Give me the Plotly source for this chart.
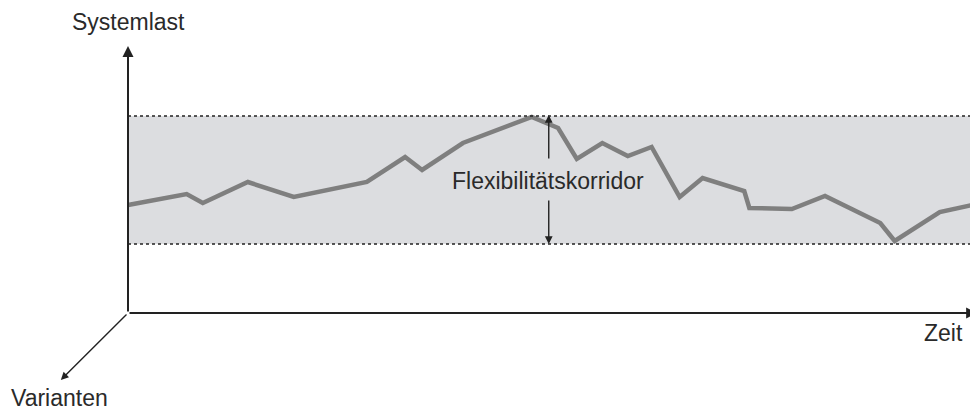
import plotly.graph_objects as go

# Time (0-100) and system load values
zeit = [0, 6.9, 8.8, 14.1, 19.5, 28.1, 32.6, 34.6, 39.4, 47.5, 50.6, 52.8, 55.8,
        58.8, 61.6, 64.9, 67.6, 72.5, 73.1, 78.1, 82.0, 88.5, 90.2, 95.5, 99.3]
last = [54, 59.5, 55, 65.5, 58, 65.5, 78, 71.5, 85, 98, 92.5, 77, 85,
        78.5, 83, 58, 67.5, 61, 52.5, 52, 58.5, 45, 36, 50.5, 54]

korridor_unten = 34.5
korridor_oben = 98.5
korridor_x = 49.5

FONT = "Liberation Sans"
TXT = "#2a2a2a"

fig = go.Figure()
fig.add_trace(go.Scatter(x=zeit, y=last, mode="lines",
                         line=dict(color="#7f7f7f", width=4.5),
                         hoverinfo="skip", showlegend=False))

# corridor band
fig.add_shape(type="rect", xref="x", yref="y", x0=0, x1=101,
              y0=korridor_unten, y1=korridor_oben,
              fillcolor="#dcdde0", line_width=0, layer="below")
for yv in (korridor_unten, korridor_oben):
    fig.add_shape(type="line", xref="x", yref="y", x0=0, x1=101, y0=yv, y1=yv,
                  line=dict(color="#222222", width=1.5, dash="dot"))

def arrow(x, y, ax, ay, w=1.8):
    fig.add_annotation(x=x, y=y, ax=ax, ay=ay, xref="x", yref="y",
                       axref="x", ayref="y", text="", showarrow=True,
                       arrowhead=2, arrowsize=1.1, arrowwidth=w,
                       arrowcolor="#222222")

# axes
arrow(0, 133.5, 0, 0, 2)
arrow(99.9, 0, 0, 0, 2)
arrow(-7.9, -33.5, 0, 0, 1.4)

# corridor double arrow
arrow(korridor_x, korridor_oben + 0.5, korridor_x, 76.5, 1.4)
arrow(korridor_x, korridor_unten, korridor_x, 57, 1.4)

def label(x, y, t):
    fig.add_annotation(x=x, y=y, xref="x", yref="y", text=t, showarrow=False,
                       font=dict(family=FONT, size=23, color=TXT))

label(0, 145.5, "Systemlast")
label(95.9, -10, "Zeit")
label(-8.1, -42.5, "Varianten")
label(49.4, 66, "Flexibilitätskorridor")

# page has an 8px body margin: figure is 970x404 placed at (8, 8)
fig.update_layout(
    width=970, height=404, margin=dict(l=0, r=0, t=0, b=0),
    paper_bgcolor="white", plot_bgcolor="white",
    xaxis=dict(range=[(8 - 128) / 8.5, 100], visible=False, fixedrange=True),
    yaxis=dict(range=[-49.5, (313 - 8) / 2], visible=False, fixedrange=True),
    showlegend=False,
)
fig.write_html("out.html")
